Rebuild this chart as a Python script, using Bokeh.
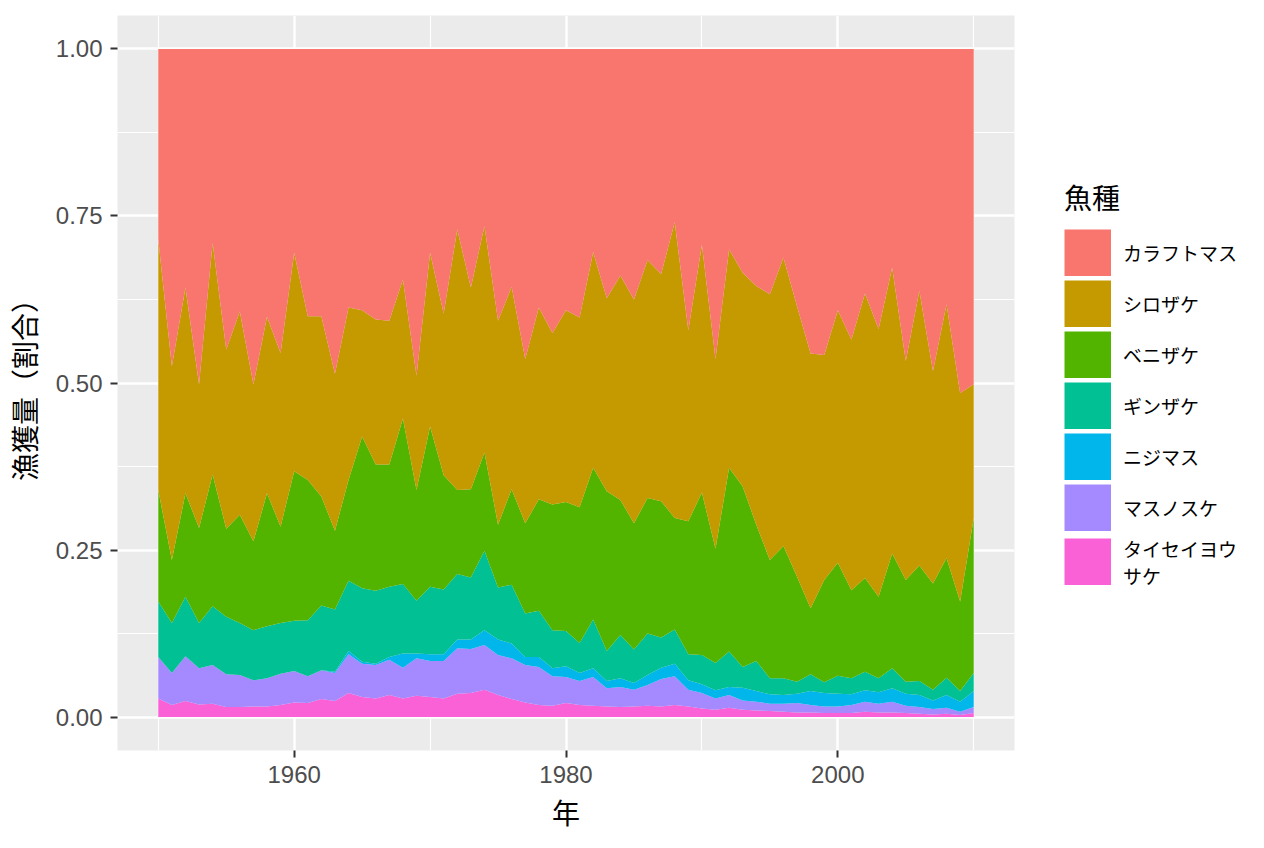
from bokeh.plotting import figure
from bokeh.models import ColumnDataSource, Range1d, FixedTicker, Legend, LegendItem
from bokeh.embed import file_html
from bokeh.resources import INLINE

years = list(range(1950, 2011))

species = ["カラフトマス", "シロザケ", "ベニザケ", "ギンザケ", "ニジマス", "マスノスケ", "タイセイヨウサケ"]
legend_labels = ["カラフトマス", "シロザケ", "ベニザケ", "ギンザケ", "ニジマス", "マスノスケ", "タイセイヨウ\nサケ"]
colors = ["#F8766D", "#C49A00", "#53B400", "#00C094", "#00B6EB", "#A58AFF", "#FB61D7"]

pink_salmon = [
    .285, .475, .357, .502, .290, .450, .393, .502, .401, .455,
    .305, .400, .400, .486, .387, .391, .405, .407, .345, .489,
    .305, .396, .270, .357, .265, .407, .356, .464, .387, .425,
    .391, .402, .304, .373, .339, .375, .316, .337, .259, .421,
    .293, .464, .300, .335, .355, .367, .312, .385, .456, .458,
    .391, .435, .366, .419, .327, .467, .362, .482, .382, .515, .502]
chum_salmon = [
    .375, .290, .308, .215, .347, .268, .304, .235, .264, .260,
    .327, .245, .270, .235, .258, .189, .217, .215, .208, .171,
    .260, .242, .390, .302, .339, .305, .303, .246, .287, .257,
    .287, .284, .323, .289, .336, .335, .356, .340, .443, .286,
    .371, .284, .327, .320, .357, .398, .432, .405, .381, .337,
    .378, .375, .426, .401, .428, .328, .411, .318, .380, .312, .200]
sockeye_salmon = [
    .167, .094, .155, .142, .197, .132, .162, .133, .199, .144,
    .224, .210, .163, .118, .151, .227, .189, .183, .248, .166,
    .240, .171, .126, .132, .147, .094, .143, .135, .167, .188,
    .193, .203, .227, .239, .202, .189, .203, .204, .167, .199,
    .243, .171, .275, .270, .204, .177, .198, .157, .099, .153,
    .169, .132, .140, .122, .172, .152, .173, .159, .179, .134, .232]
coho_salmon = [
    .083, .075, .089, .068, .088, .086, .078, .075, .078, .076,
    .075, .084, .097, .093, .105, .110, .109, .105, .104, .079,
    .101, .097, .098, .093, .119, .078, .088, .065, .069, .057,
    .053, .045, .073, .045, .065, .050, .062, .045, .051, .039,
    .044, .041, .053, .031, .045, .024, .025, .018, .025, .016,
    .027, .024, .028, .021, .030, .018, .021, .016, .026, .016, .027]
steelhead = [
    .000, .000, .000, .000, .000, .000, .000, .000, .000, .000,
    .000, .000, .000, .002, .005, .003, .002, .004, .021, .007,
    .010, .010, .013, .014, .022, .023, .022, .012, .015, .012,
    .016, .012, .013, .011, .013, .010, .015, .017, .019, .014,
    .013, .012, .012, .019, .016, .014, .013, .014, .021, .020,
    .019, .016, .017, .017, .020, .018, .018, .013, .019, .015, .024]
chinook_salmon = [
    .062, .048, .067, .054, .058, .049, .048, .039, .042, .047,
    .047, .040, .043, .042, .058, .050, .050, .053, .046, .056,
    .054, .056, .068, .066, .067, .060, .061, .056, .057, .044,
    .039, .036, .043, .027, .030, .025, .031, .041, .043, .025,
    .023, .017, .019, .014, .013, .011, .012, .014, .011, .010,
    .010, .012, .015, .013, .016, .011, .010, .008, .009, .005, .009]
atlantic_salmon = [
    .028, .018, .024, .019, .020, .015, .015, .016, .016, .018,
    .022, .021, .027, .024, .036, .030, .028, .033, .028, .032,
    .030, .028, .035, .036, .041, .033, .027, .022, .018, .017,
    .021, .018, .017, .016, .015, .016, .017, .016, .018, .016,
    .013, .011, .014, .011, .010, .009, .008, .007, .007, .006,
    .006, .006, .008, .007, .007, .006, .005, .004, .005, .003, .006]

x_ticks = [1960, 1980, 2000]
x_minor = [1950, 1970, 1990, 2010]
y_ticks = [0.0, 0.25, 0.5, 0.75, 1.0]
y_tick_labels = ["0.00", "0.25", "0.50", "0.75", "1.00"]
y_minor = [0.125, 0.375, 0.625, 0.875]

series = [pink_salmon, chum_salmon, sockeye_salmon, coho_salmon, steelhead, chinook_salmon, atlantic_salmon]
keys = ["s%d" % i for i in range(len(series))]

# position = "fill": normalise each year to a total of 1
totals = [sum(s[i] for s in series) for i in range(len(years))]
data = {"year": years}
for k, s in zip(keys, series):
    data[k] = [v / t for v, t in zip(s, totals)]
source = ColumnDataSource(data)

p = figure(frame_width=897, frame_height=735,
           x_range=Range1d(1947, 2013), y_range=Range1d(-0.05, 1.05),
           output_backend="svg", toolbar_location=None,
           min_border_left=110, min_border_right=241,
           min_border_top=15, min_border_bottom=82)
p.background_fill_color = "#EBEBEB"
p.border_fill_color = "white"
p.outline_line_color = None

# stack from bottom (タイセイヨウサケ) to top (カラフトマス)
stack_keys = keys[::-1]
stack_colors = colors[::-1]
p.varea_stack(stackers=stack_keys, x="year", color=stack_colors, source=source)

# legend swatches: lines with no drawable segment whose legend glyph is a full square
nan = float("nan")
swatches = [p.line(x=[years[0]], y=[nan], line_color=c, line_width=47, line_cap="butt")
            for c in colors]

# axes
p.xaxis.ticker = FixedTicker(ticks=x_ticks, minor_ticks=x_minor)
p.yaxis.ticker = FixedTicker(ticks=y_ticks, minor_ticks=y_minor)
p.yaxis.major_label_overrides = {t: l for t, l in zip(y_ticks, y_tick_labels)}
for ax in (p.xaxis[0], p.yaxis[0]):
    ax.axis_line_color = None
    ax.major_tick_line_color = "#333333"
    ax.major_tick_line_width = 2
    ax.major_tick_out = 7
    ax.major_tick_in = 0
    ax.minor_tick_line_color = None
    ax.major_label_text_font = "Liberation Sans"
    ax.major_label_text_font_size = "24px"
    ax.major_label_text_color = "#4D4D4D"
    ax.major_label_standoff = 8
    ax.axis_label_text_font = "Noto Sans CJK JP"
    ax.axis_label_text_font_size = "28px"
    ax.axis_label_text_font_style = "normal"
    ax.axis_label_text_color = "black"
p.xaxis.axis_label = "年"
p.yaxis.axis_label = "漁獲量（割合）"
p.xaxis.axis_label_standoff = 6
p.yaxis.axis_label_standoff = 9

# grid
for g in (p.xgrid[0], p.ygrid[0]):
    g.grid_line_color = "white"
    g.grid_line_width = 2.4
    g.minor_grid_line_color = "white"
    g.minor_grid_line_width = 1.2

# legend
items = [LegendItem(label=lab, renderers=[r]) for lab, r in zip(legend_labels, swatches)]
legend = Legend(items=items, location="center_left")
legend.title = "魚種"
legend.title_text_font = "Noto Sans CJK JP"
legend.title_text_font_size = "28px"
legend.title_text_font_style = "normal"
legend.title_text_color = "black"
legend.title_standoff = 12
legend.label_text_font = "Noto Sans CJK JP"
legend.label_text_font_size = "19px"
legend.label_text_color = "black"
legend.label_standoff = 12
legend.glyph_width = 47
legend.glyph_height = 47
legend.spacing = 4
legend.padding = 5
legend.margin = 50
legend.border_line_color = None
legend.background_fill_color = None
p.add_layout(legend, "right")

open("out.html", "w").write(file_html(p, INLINE))
